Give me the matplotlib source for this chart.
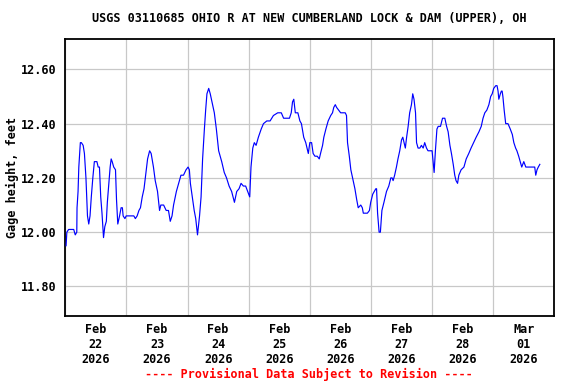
import matplotlib
matplotlib.use("Agg")
import matplotlib.pyplot as plt
import matplotlib.dates as mdates
import numpy as np
import pandas as pd

# gage height trace, hours since 2026-02-22 00:00 and feet
hours = [
    0.3, 0.6, 1.3, 3.3, 3.9, 4.5, 4.6, 5.0, 5.3, 5.9, 6.3, 7.0, 7.5, 8.1, 8.7,
    9.2, 9.7, 10.2, 10.8, 11.4, 12.4, 12.9, 13.4, 13.9, 14.4, 15.0, 15.5, 16.1,
    16.5, 17.1, 17.6, 18.0, 18.4, 19.0, 19.7, 20.1, 20.6, 21.3, 21.9, 22.4,
    22.7, 23.4, 23.9, 25.6, 26.9, 27.5, 28.2, 28.9, 29.5, 30.2, 30.9, 31.4,
    32.3, 33.1, 33.7, 34.6, 35.3, 36.2, 37.0, 37.5, 38.6, 39.6, 40.5, 41.2,
    41.9, 42.5, 43.6, 44.5, 45.4, 46.4, 47.4, 48.2, 48.7, 49.1, 49.7, 50.6,
    51.2, 51.9, 52.7, 53.3, 53.9, 54.6, 55.1, 55.6, 56.3, 56.9, 57.6, 58.5,
    59.3, 60.2, 61.4, 62.4, 63.3, 64.3, 65.3, 66.4, 67.3, 68.2, 69.0, 69.9,
    70.8, 71.6, 72.4, 72.9, 73.6, 74.2, 74.9, 75.8, 76.9, 77.8, 79.1, 80.4,
    81.7, 83.4, 84.8, 85.7, 87.0, 88.0, 88.7, 89.2, 89.7, 90.3, 91.3, 92.1,
    92.7, 93.6, 94.4, 95.4, 96.0, 96.7, 97.3, 98.0, 98.9, 99.7, 100.2, 101.0,
    101.5, 102.3, 103.2, 104.2, 104.9, 105.4, 106.0, 106.5, 107.3, 108.1,
    109.1, 109.9, 110.4, 110.8, 111.5, 112.1, 112.8, 113.7, 114.4, 115.0,
    116.0, 116.6, 117.0, 118.6, 119.4, 119.9, 120.7, 121.3, 121.9, 122.2,
    122.6, 123.2, 123.7, 124.3, 125.1, 126.1, 127.0, 127.8, 128.3, 128.7,
    129.3, 130.0, 130.6, 131.3, 132.0, 132.5, 133.0, 133.5, 134.0, 134.6,
    135.2, 135.9, 136.4, 136.9, 137.5, 137.9, 138.5, 139.2, 139.8, 140.5,
    141.1, 141.8, 142.4, 143.1, 144.0, 144.4, 144.8, 145.3, 145.9, 146.4,
    147.3, 148.1, 149.0, 149.7, 150.3, 151.0, 151.6, 152.3, 152.9, 153.4,
    154.0, 154.5, 155.4, 156.5, 157.4, 158.4, 159.3, 160.3, 161.3, 162.4,
    163.3, 164.0, 164.7, 165.5, 166.3, 167.0, 167.6, 168.2, 169.0, 169.5,
    169.9, 170.2, 170.8, 171.2, 171.5, 171.8, 172.3, 172.9, 173.8, 174.7,
    175.5, 176.1, 176.8, 177.3, 178.0, 178.6, 179.2, 180.0, 180.8, 181.3,
    183.0, 184.3, 184.7, 185.2, 185.7, 186.3,
]
gage_ft = [
    11.95, 12.00, 12.01, 12.01, 11.99, 12.00, 12.09, 12.15, 12.24, 12.33, 12.33,
    12.32, 12.29, 12.20, 12.06, 12.03, 12.06, 12.13, 12.20, 12.26, 12.26, 12.24,
    12.24, 12.13, 12.07, 11.98, 12.02, 12.04, 12.11, 12.18, 12.24, 12.27, 12.26,
    12.24, 12.23, 12.12, 12.03, 12.06, 12.09, 12.09, 12.06, 12.05, 12.06, 12.06,
    12.06, 12.05, 12.06, 12.08, 12.09, 12.13, 12.16, 12.20, 12.27, 12.30, 12.29,
    12.24, 12.19, 12.15, 12.08, 12.10, 12.10, 12.08, 12.08, 12.04, 12.06, 12.10,
    12.15, 12.18, 12.21, 12.21, 12.23, 12.24, 12.23, 12.18, 12.14, 12.08, 12.05,
    11.99, 12.06, 12.13, 12.27, 12.38, 12.45, 12.51, 12.53, 12.51, 12.48, 12.44,
    12.38, 12.30, 12.26, 12.22, 12.20, 12.17, 12.15, 12.11, 12.15, 12.16, 12.18,
    12.17, 12.17, 12.15, 12.13, 12.24, 12.31, 12.33, 12.32, 12.35, 12.38, 12.40,
    12.41, 12.41, 12.43, 12.44, 12.44, 12.42, 12.42, 12.42, 12.44, 12.48, 12.49,
    12.44, 12.44, 12.41, 12.40, 12.35, 12.33, 12.29, 12.33, 12.33, 12.29, 12.28,
    12.28, 12.27, 12.29, 12.32, 12.35, 12.38, 12.41, 12.43, 12.44, 12.46, 12.47,
    12.46, 12.45, 12.44, 12.44, 12.44, 12.43, 12.33, 12.28, 12.23, 12.20, 12.16,
    12.12, 12.09, 12.10, 12.09, 12.07, 12.07, 12.08, 12.11, 12.14, 12.15, 12.16,
    12.16, 12.07, 12.00, 12.00, 12.08, 12.11, 12.15, 12.17, 12.20, 12.20, 12.19,
    12.21, 12.24, 12.27, 12.30, 12.34, 12.35, 12.33, 12.31, 12.35, 12.39, 12.44,
    12.47, 12.51, 12.49, 12.44, 12.33, 12.31, 12.31, 12.32, 12.31, 12.33, 12.31,
    12.30, 12.30, 12.30, 12.26, 12.22, 12.30, 12.38, 12.39, 12.39, 12.42, 12.42,
    12.39, 12.37, 12.32, 12.29, 12.25, 12.21, 12.19, 12.18, 12.21, 12.23, 12.24,
    12.27, 12.29, 12.31, 12.33, 12.35, 12.37, 12.39, 12.42, 12.44, 12.45, 12.47,
    12.50, 12.51, 12.53, 12.54, 12.54, 12.52, 12.49, 12.51, 12.52, 12.52, 12.50,
    12.45, 12.40, 12.40, 12.38, 12.36, 12.33, 12.31, 12.30, 12.28, 12.26, 12.24,
    12.26, 12.24, 12.24, 12.24, 12.24, 12.21, 12.23, 12.24, 12.25,
]
y_ticks = [11.80, 12.00, 12.20, 12.40, 12.60]

TITLE = "USGS 03110685 OHIO R AT NEW CUMBERLAND LOCK & DAM (UPPER), OH"
FONT = "DejaVu Sans Mono"
FS = 8.45

start = pd.Timestamp("2026-02-22 00:00")
times = start + pd.to_timedelta(hours, unit="h")

fig = plt.figure(figsize=(5.76, 3.84), dpi=100)
ax = fig.add_axes([0.1134, 0.1771, 0.849, 0.7206])

ax.plot(times, gage_ft, color="#0000ff", lw=0.85, zorder=3)

ax.set_xlim(start, start + pd.Timedelta(days=8))
ax.set_ylim(11.691, 12.711)

# gridlines at midnight, labels at noon
ax.xaxis.set_major_locator(mdates.DayLocator())
ax.xaxis.set_major_formatter(plt.NullFormatter())
ax.xaxis.set_minor_locator(mdates.HourLocator(byhour=[12]))
ax.xaxis.set_minor_formatter(mdates.DateFormatter("%b\n%d\n%Y"))
ax.tick_params(axis="x", which="both", length=0, pad=5)
ax.tick_params(axis="y", length=0, pad=6)

ax.set_yticks(y_ticks)
ax.set_yticklabels([f"{v:.2f}" for v in y_ticks])
for lab in ax.get_xticklabels(minor=True) + ax.get_yticklabels():
    lab.set_fontfamily(FONT)
    lab.set_fontweight("bold")
    lab.set_fontsize(FS)
    lab.set_linespacing(1.2)

ax.grid(True, which="major", color="#c8c8c8", lw=0.9)
ax.set_axisbelow(True)
for s in ax.spines.values():
    s.set_linewidth(1.3)
    s.set_color("black")

ax.set_ylabel("Gage height, feet", fontfamily=FONT, fontweight="bold",
              fontsize=FS, labelpad=6)
ax.yaxis.set_label_coords(-0.094, 0.5)

fig.text(0.537, 0.951, TITLE, ha="center", va="center",
         fontfamily=FONT, fontweight="bold", fontsize=FS)
fig.text(0.537, 0.024, "---- Provisional Data Subject to Revision ----",
         ha="center", va="center", color="red",
         fontfamily=FONT, fontweight="bold", fontsize=FS)

fig.savefig("out.png", dpi=100, facecolor="white")
